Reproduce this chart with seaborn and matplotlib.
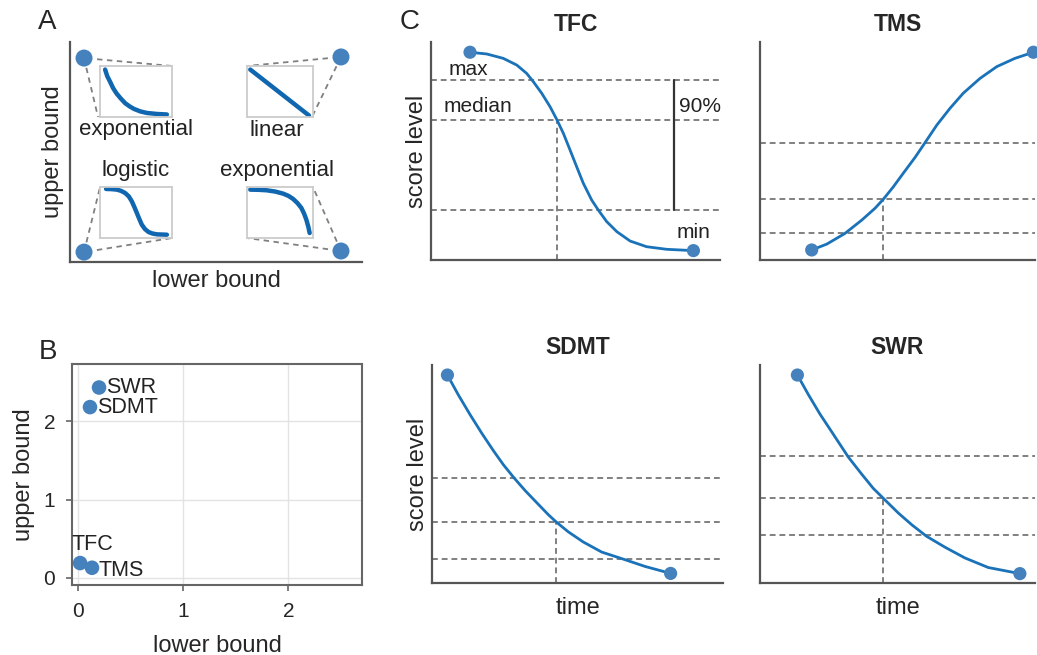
import numpy as np
import pandas as pd
import matplotlib
matplotlib.use("Agg")
import matplotlib.pyplot as plt
import seaborn as sns

sns.set_theme(style="ticks")
plt.rcParams['font.family'] = ['Liberation Sans', 'DejaVu Sans']

LINE = '#1a72b8'
DOT = '#4581bd'
DASH = '#808080'
SPINE = '#555555'

# ---------------- Panel A data (schematic, axes units 0..1) ----------------
a_dots_x = [0.048, 0.928, 0.048, 0.928]
a_dots_y = [0.927, 0.932, 0.045, 0.050]
a_labels = ['exponential', 'linear', 'logistic', 'exponential']
a_label_x = [0.226, 0.709, 0.226, 0.709]
a_label_y = [0.600, 0.600, 0.418, 0.418]
# inset boxes [x0, y0, w, h]
a_boxes = [[0.103, 0.659, 0.246, 0.232],
           [0.606, 0.659, 0.226, 0.232],
           [0.103, 0.109, 0.246, 0.232],
           [0.606, 0.109, 0.226, 0.232]]
# dashed connector targets (two corners per box)
a_conn = [[(0.349, 0.891), (0.096, 0.659)],
          [(0.606, 0.891), (0.832, 0.668)],
          [(0.103, 0.341), (0.349, 0.109)],
          [(0.832, 0.341), (0.606, 0.109)]]
# small curves inside insets
exp1_x = [0.07, 0.10, 0.14, 0.18, 0.23, 0.29, 0.35, 0.41, 0.47, 0.56, 0.65, 0.79, 0.93]
exp1_y = [0.93, 0.80, 0.69, 0.57, 0.46, 0.36, 0.27, 0.21, 0.16, 0.11, 0.08, 0.06, 0.05]
lin_x = [0.05, 0.94]
lin_y = [0.93, 0.03]
logi_x = [0.084, 0.160, 0.233, 0.290, 0.349, 0.400, 0.442, 0.478, 0.512, 0.547, 0.581, 0.625, 0.674, 0.730, 0.791, 0.930]
logi_y = [0.961, 0.958, 0.948, 0.925, 0.882, 0.815, 0.719, 0.605, 0.490, 0.370, 0.261, 0.175, 0.118, 0.088, 0.072, 0.065]
exp2_x = [0.05, 0.18, 0.30, 0.43, 0.55, 0.63, 0.70, 0.765, 0.825, 0.865, 0.90, 0.93, 0.95]
exp2_y = [0.948, 0.944, 0.935, 0.910, 0.869, 0.825, 0.765, 0.685, 0.588, 0.480, 0.359, 0.220, 0.098]
a_curves = [(exp1_x, exp1_y), (lin_x, lin_y), (logi_x, logi_y), (exp2_x, exp2_y)]

# ---------------- Panel B data ----------------
b_names = ['SWR', 'SDMT', 'TFC', 'TMS']
b_lower = [0.20, 0.114, 0.02, 0.133]
b_upper = [2.43, 2.18, 0.19, 0.13]
b_ticks = [0, 1, 2]

# ---------------- Panel C data ----------------
tfc_x = [0.135, 0.193, 0.250, 0.297, 0.331, 0.354, 0.383, 0.412, 0.435, 0.458, 0.481,
         0.504, 0.527, 0.556, 0.579, 0.608, 0.643, 0.689, 0.746, 0.816, 0.908]
tfc_y = [0.953, 0.945, 0.925, 0.894, 0.856, 0.818, 0.765, 0.703, 0.645, 0.581, 0.505,
         0.428, 0.352, 0.275, 0.229, 0.176, 0.130, 0.087, 0.061, 0.049, 0.043]
tfc_h = [0.826, 0.642, 0.229]
tfc_v = 0.435

tms_x = [0.188, 0.243, 0.309, 0.370, 0.418, 0.448, 0.485, 0.521, 0.564, 0.600, 0.643,
         0.691, 0.739, 0.800, 0.861, 0.927, 0.994]
tms_y = [0.046, 0.073, 0.122, 0.183, 0.237, 0.278, 0.336, 0.398, 0.471, 0.538, 0.619,
         0.696, 0.765, 0.833, 0.887, 0.925, 0.953]
tms_h = [0.538, 0.278, 0.125]
tms_v = 0.446

sdmt_x = [0.053, 0.090, 0.131, 0.171, 0.211, 0.245, 0.282, 0.320, 0.361, 0.400, 0.426,
          0.468, 0.520, 0.583, 0.663, 0.732, 0.820]
sdmt_y = [0.954, 0.864, 0.772, 0.687, 0.607, 0.543, 0.482, 0.424, 0.367, 0.313, 0.281,
          0.235, 0.188, 0.142, 0.107, 0.076, 0.044]
sdmt_h = [0.483, 0.278, 0.109]
sdmt_v = 0.426

swr_x = [0.136, 0.176, 0.218, 0.261, 0.321, 0.370, 0.412, 0.452, 0.503, 0.552, 0.606,
         0.673, 0.745, 0.830, 0.945]
swr_y = [0.954, 0.864, 0.775, 0.693, 0.578, 0.499, 0.434, 0.384, 0.321, 0.267, 0.214,
         0.164, 0.115, 0.071, 0.043]
swr_h = [0.584, 0.389, 0.220]
swr_v = 0.446

W, H = 1037, 655
fig = plt.figure(figsize=(W / 100, H / 100), dpi=100)


def px_axes(l, r, t, b):
    return fig.add_axes([l / W, (H - b) / H, (r - l) / W, (b - t) / H])


# ================= Panel A =================
axA = px_axes(70, 362, 42, 262)
axA.set_xlim(0, 1)
axA.set_ylim(0, 1)
for s in ['top', 'right']:
    axA.spines[s].set_visible(False)
for s in ['left', 'bottom']:
    axA.spines[s].set_color(SPINE)
    axA.spines[s].set_linewidth(1.6)
axA.set_xticks([])
axA.set_yticks([])
axA.set_xlabel('lower bound', fontsize=17, labelpad=6)
axA.set_ylabel('upper bound', fontsize=17, labelpad=4)

for i in range(4):
    dx, dy = a_dots_x[i], a_dots_y[i]
    for (cx, cy) in a_conn[i]:
        d = np.hypot(cx - dx, cy - dy)
        f = 0.045 / d
        sx = dx + f * (cx - dx)
        sy = dy + f * (cy - dy)
        axA.plot([sx, cx], [sy, cy], ls=(0, (3, 2.5)), color=DASH, lw=1.3)
    axA.text(a_label_x[i], a_label_y[i], a_labels[i], ha='center', va='center', fontsize=16, color='#222222')
    ins = axA.inset_axes(a_boxes[i], transform=axA.transData)
    ins.set_xlim(0, 1)
    ins.set_ylim(0, 1)
    ins.set_xticks([])
    ins.set_yticks([])
    for s in ins.spines.values():
        s.set_color('#cccccc')
        s.set_linewidth(1.3)
    cx_, cy_ = a_curves[i]
    sns.lineplot(x=cx_, y=cy_, ax=ins, color='#1067b0', lw=3.2, sort=False)
sns.scatterplot(x=a_dots_x, y=a_dots_y, ax=axA, s=150, color=DOT, edgecolor='none', clip_on=False, zorder=5)

fig.text(47 / W, 1 - 22 / H, 'A', fontsize=20, ha='center', va='center')

# ================= Panel B =================
axB = px_axes(72, 362, 364, 585)
dfB = pd.DataFrame({'lower': b_lower, 'upper': b_upper, 'name': b_names})
sns.scatterplot(data=dfB, x='lower', y='upper', ax=axB, s=110, color=DOT, edgecolor='none', zorder=5)
axB.set_xlim(-0.057, 2.70)
axB.set_ylim(-0.09, 2.73)
axB.set_xticks(b_ticks)
axB.set_yticks(b_ticks)
axB.grid(True, color='#e3e3e3', lw=1)
axB.set_axisbelow(True)
for s in axB.spines.values():
    s.set_color('#666666')
    s.set_linewidth(1.5)
axB.tick_params(labelsize=15, length=4, width=1.2, color='#666666', pad=8)
axB.set_xlabel('lower bound', fontsize=17, labelpad=10)
axB.set_ylabel('upper bound', fontsize=17, labelpad=6)
offsets = {'SWR': (5, 0, 'left', 'center'), 'SDMT': (5, 0, 'left', 'center'),
           'TFC': (9, 6, 'center', 'bottom'), 'TMS': (5, -2, 'left', 'center')}
for n, x, y in zip(b_names, b_lower, b_upper):
    ox, oy, ha, va = offsets[n]
    axB.annotate(n, (x, y), xytext=(ox, oy), textcoords='offset points', ha=ha, va=va,
                 fontsize=15.5, color='#222222')
fig.text(48 / W, 1 - 352 / H, 'B', fontsize=20, ha='center', va='center')

# ================= Panel C =================
def c_panel(ax, xs, ys, hs, v, title, ylabel, xlabel):
    ax.set_xlim(0, 1)
    ax.set_ylim(0, 1)
    for hh in hs:
        ax.axhline(hh, ls=(0, (3, 2)), color=DASH, lw=1.4, zorder=1)
    ax.plot([v, v], [0, hs[1]], ls=(0, (3, 2)), color=DASH, lw=1.4, zorder=1)
    sns.lineplot(x=xs, y=ys, ax=ax, color=LINE, lw=2.0, sort=False, zorder=3)
    sns.scatterplot(x=[xs[0], xs[-1]], y=[ys[0], ys[-1]], ax=ax, s=90, color=DOT,
                    edgecolor='none', clip_on=False, zorder=4)
    for s in ['top', 'right']:
        ax.spines[s].set_visible(False)
    for s in ['left', 'bottom']:
        ax.spines[s].set_color(SPINE)
        ax.spines[s].set_linewidth(1.6)
    ax.set_xticks([])
    ax.set_yticks([])
    ax.set_title(title, fontsize=16.5, fontweight='bold', pad=8)
    ax.set_ylabel(ylabel, fontsize=17, labelpad=2)
    ax.set_xlabel(xlabel, fontsize=17, labelpad=10)


axT = px_axes(431, 720, 42, 260)
c_panel(axT, tfc_x, tfc_y, tfc_h, tfc_v, 'TFC', 'score level', '')
axT.text(0.128, 0.872, 'max', ha='center', va='center', fontsize=15, color='#222222')
axT.text(0.163, 0.702, 'median', ha='center', va='center', fontsize=15, color='#222222')
axT.text(0.931, 0.702, '90%', ha='center', va='center', fontsize=15, color='#222222')
axT.text(0.910, 0.128, 'min', ha='center', va='center', fontsize=15, color='#222222')
axT.plot([0.841, 0.841], [tfc_h[0], tfc_h[2]], color='#333333', lw=1.6)

axM = px_axes(760, 1035, 42, 260)
c_panel(axM, tms_x, tms_y, tms_h, tms_v, 'TMS', '', '')

axS = px_axes(432, 723, 365, 583)
c_panel(axS, sdmt_x, sdmt_y, sdmt_h, sdmt_v, 'SDMT', 'score level', 'time')

axW = px_axes(760, 1035, 365, 583)
c_panel(axW, swr_x, swr_y, swr_h, swr_v, 'SWR', '', 'time')

fig.text(410 / W, 1 - 22 / H, 'C', fontsize=20, ha='center', va='center')

fig.savefig('out.png', dpi=100)
